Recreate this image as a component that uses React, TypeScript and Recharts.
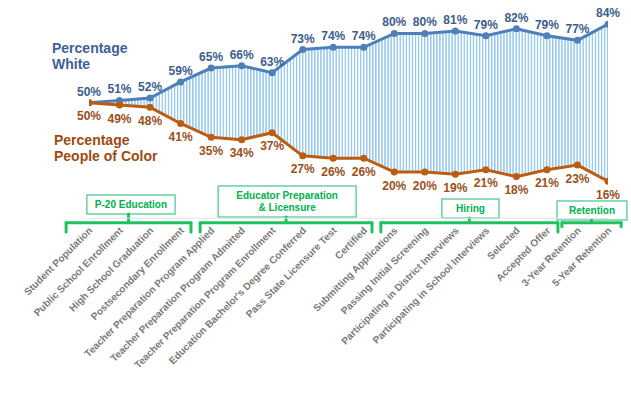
import { Area, ComposedChart, LabelList, Line, ReferenceArea, ReferenceLine, XAxis, YAxis } from 'recharts';

const categories = [
  'Student Population',
  'Public School Enrollment',
  'High School Graduation',
  'Postsecondary Enrollment',
  'Teacher Preparation Program Applied',
  'Teacher Preparation Program Admitted',
  'Teacher Preparation Program Enrollment',
  "Education Bachelor's Degree Conferred",
  'Pass State Licensure Test',
  'Certified',
  'Submitting Applications',
  'Passing Initial Screening',
  'Participating in District Interviews',
  'Participating in School Interviews',
  'Selected',
  'Accepted Offer',
  '3-Year Retention',
  '5-Year Retention',
];

const whitePct = [50, 51, 52, 59, 65, 66, 63, 73, 74, 74, 80, 80, 81, 79, 82, 79, 77, 84];
const pocPct = [50, 49, 48, 41, 35, 34, 37, 27, 26, 26, 20, 20, 19, 21, 18, 21, 23, 16];

const groupLabels = [['P-20 Education'], ['Educator Preparation', '& Licensure'], ['Hiring'], ['Retention']];

// annotation layout, in axis units (category index / percent)
const groupBoxes = [
  { x1: -0.07, x2: 2.82, y1: 1.82, y2: 10.04 },
  { x1: 4.23, x2: 8.75, y1: 0.52, y2: 13.94 },
  { x1: 11.56, x2: 13.43, y1: 0.09, y2: 8.31 },
  { x1: 15.33, x2: 17.62, y1: -0.78, y2: 7.45 },
];
const groupBrackets = [
  { from: -0.75, to: 3.34, foot: -5.97 },
  { from: 3.64, to: 9.27, foot: -5.97 },
  { from: 9.56, to: 15.36, foot: -5.97 },
  { from: 15.49, to: 17.43, foot: -3.68 },
];
const bracketLevel = -1.95;

const data = categories.map((name, i) => ({
  idx: i,
  name,
  white: whitePct[i],
  poc: pocPct[i],
  gap: [pocPct[i], whitePct[i]],
}));

const FONT = '"Liberation Sans", Arial, sans-serif';
const BLUE = '#4f7fb8';
const ORANGE = '#bb5c10';
const GREEN = '#1fc25e';

const pct = (v: any) => `${v}%`;

const CategoryTick = (props: any) => {
  const { x, y, payload } = props;
  return (
    <text
      x={0}
      y={0}
      transform={`translate(${x + 4},${y + 13}) rotate(-45)`}
      textAnchor="end"
      fill="#7b7b7b"
      fontSize={10}
      fontWeight="bold"
      fontFamily={FONT}
    >
      {categories[payload.value]}
    </text>
  );
};

const boxShape = (lines: string[]) => (p: any) => {
  const cx = p.x + p.width / 2;
  const cy = p.y + p.height / 2;
  const top = cy - ((lines.length - 1) * 12) / 2 + 3.5;
  return (
    <g>
      <rect x={p.x} y={p.y} width={p.width} height={p.height} fill="#fff" stroke="#52c99a" strokeWidth={1.3} />
      {lines.map((t, k) => (
        <text key={k} x={cx} y={top + k * 12} textAnchor="middle" fill="#00b050" fontSize={10} fontWeight="bold" fontFamily={FONT}>
          {t}
        </text>
      ))}
    </g>
  );
};

export default function App() {
  const seg = (x1: number, y1: number, x2: number, y2: number, key: string) => (
    <ReferenceLine
      key={key}
      segment={[{ x: x1, y: y1 }, { x: x2, y: y2 }]}
      stroke={GREEN}
      strokeWidth={3}
      strokeLinecap="round"
      ifOverflow="visible"
    />
  );

  return (
    <div style={{ position: 'absolute', left: 0, top: 0, width: 631, height: 395, fontFamily: FONT }}>
      <ComposedChart width={631} height={395} data={data} margin={{ top: 10.3, right: 23, left: 89, bottom: 26.8 }}>
        <defs>
          <pattern id="vstripes" width="3.05" height="6" patternUnits="userSpaceOnUse">
            <rect x="0" y="0" width="1.4" height="6" fill="#93c6ee" />
          </pattern>
        </defs>
        <XAxis
          type="number"
          dataKey="idx"
          domain={[0, 17]}
          allowDataOverflow
          ticks={data.map((d) => d.idx)}
          interval={0}
          axisLine={{ stroke: '#e2e2e2' }}
          tickLine={false}
          tickSize={0}
          tickMargin={0}
          height={150}
          tick={CategoryTick}
        />
        <YAxis type="number" domain={[0, 90]} allowDataOverflow hide />
        <Area type="linear" dataKey="gap" fill="url(#vstripes)" fillOpacity={1} stroke="none" isAnimationActive={false} />
        <Line
          type="linear"
          dataKey="white"
          stroke={BLUE}
          strokeWidth={3}
          dot={{ r: 3.5, fill: BLUE, stroke: BLUE, strokeWidth: 0 }}
          isAnimationActive={false}
        >
          <LabelList dataKey="white" position="top" offset={7} formatter={pct} fill="#3d5d8c" fontSize={12} fontWeight="bold" fontFamily={FONT} />
        </Line>
        <Line
          type="linear"
          dataKey="poc"
          stroke={ORANGE}
          strokeWidth={3}
          dot={{ r: 3.5, fill: ORANGE, stroke: ORANGE, strokeWidth: 0 }}
          isAnimationActive={false}
        >
          <LabelList dataKey="poc" position="bottom" offset={9} formatter={pct} fill="#99501c" fontSize={12} fontWeight="bold" fontFamily={FONT} />
        </Line>
        {groupBrackets.map((b, i) => {
          const mid = (b.from + b.to) / 2;
          return [
            seg(b.from, bracketLevel, b.to, bracketLevel, `h${i}`),
            seg(b.from, bracketLevel, b.from, b.foot, `l${i}`),
            seg(b.to, bracketLevel, b.to, b.foot, `r${i}`),
            seg(mid, bracketLevel, mid, groupBoxes[i].y1, `c${i}`),
          ];
        })}
        {groupBoxes.map((b, i) => (
          <ReferenceArea key={`box${i}`} x1={b.x1} x2={b.x2} y1={b.y1} y2={b.y2} ifOverflow="visible" shape={boxShape(groupLabels[i])} />
        ))}
      </ComposedChart>
      <div style={{ position: 'absolute', left: 52, top: 40, fontSize: 14, lineHeight: '16px', fontWeight: 'bold', color: '#3e6196' }}>
        Percentage
        <br />
        White
      </div>
      <div style={{ position: 'absolute', left: 54, top: 132, fontSize: 14, lineHeight: '16px', fontWeight: 'bold', color: '#9a4c14' }}>
        Percentage
        <br />
        People of Color
      </div>
    </div>
  );
}
